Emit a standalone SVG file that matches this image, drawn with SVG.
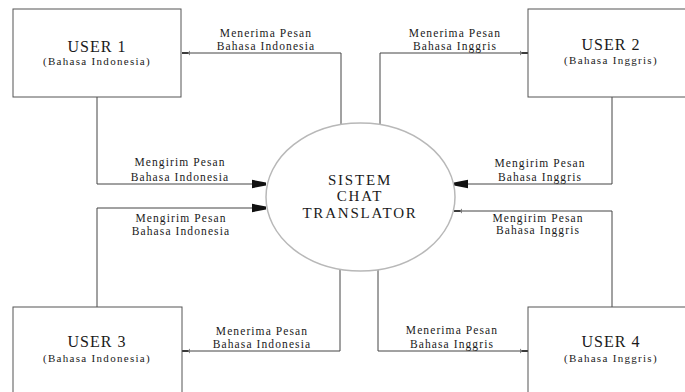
<svg xmlns="http://www.w3.org/2000/svg" width="685" height="392" viewBox="0 0 685 392">
<defs>
<style>
.box{fill:#fff;stroke:#555;stroke-width:1}
.proc{fill:#fff;stroke:#b8b8b8;stroke-width:1.5}
.ln{fill:none;stroke:#444;stroke-width:1}
.t{font-family:"Liberation Serif","Times New Roman",serif;fill:#1a1a1a;text-anchor:middle}
.u{font-size:16px;letter-spacing:1px}
.s{font-size:11px;letter-spacing:1.3px}
.lb{font-size:11.5px;letter-spacing:1.1px}
.c{font-size:15px;letter-spacing:1.8px}
</style>
<marker id="big" viewBox="0 0 10 10" refX="10" refY="5" markerWidth="14" markerHeight="14" markerUnits="userSpaceOnUse" orient="auto">
<path d="M0,2 L10,4 L10,6 L0,8 Z" fill="#111"/>
</marker>
<marker id="small" viewBox="0 0 10 10" refX="10" refY="5" markerWidth="14" markerHeight="8" markerUnits="userSpaceOnUse" orient="auto">
<path d="M0,4 L10,4 L10,6 L0,6 Z" fill="#222"/>
<path d="M0,2 L3,5 L0,8 Z" fill="#777"/>
</marker>
</defs>
<rect width="685" height="392" fill="#fff"/>
<g id="connectors">
<path class="ln" d="M341,124 V53 H182" marker-end="url(#small)"/>
<path class="ln" d="M97,97 V184 H266" marker-end="url(#big)"/>
<path class="ln" d="M380,124 V53 H528" marker-end="url(#small)"/>
<path class="ln" d="M612,97 V184 H454" marker-end="url(#big)"/>
<path class="ln" d="M97,307 V208 H266" marker-end="url(#big)"/>
<path class="ln" d="M340,270 V351 H182" marker-end="url(#small)"/>
<path class="ln" d="M378,270 V351 H528" marker-end="url(#small)"/>
<path class="ln" d="M612,307 V211 H454" marker-end="url(#small)"/>
<text class="t lb" x="266" y="37">Menerima Pesan</text>
<text class="t lb" x="266" y="50">Bahasa Indonesia</text>
<text class="t lb" x="180" y="166">Mengirim Pesan</text>
<text class="t lb" x="180" y="181">Bahasa Indonesia</text>
<text class="t lb" x="455" y="37">Menerima Pesan</text>
<text class="t lb" x="455" y="50">Bahasa Inggris</text>
<text class="t lb" x="540" y="167">Mengirim Pesan</text>
<text class="t lb" x="540" y="181">Bahasa Inggris</text>
<text class="t lb" x="181" y="222">Mengirim Pesan</text>
<text class="t lb" x="181" y="235">Bahasa Indonesia</text>
<text class="t lb" x="262" y="335">Menerima Pesan</text>
<text class="t lb" x="262" y="348">Bahasa Indonesia</text>
<text class="t lb" x="452" y="334">Menerima Pesan</text>
<text class="t lb" x="452" y="348">Bahasa Inggris</text>
<text class="t lb" x="538" y="222">Mengirim Pesan</text>
<text class="t lb" x="538" y="234">Bahasa Inggris</text>
</g>
<g id="sistem">
<ellipse class="proc" cx="360.5" cy="197" rx="94.5" ry="74"/>
<text class="t c" x="360" y="185">SISTEM</text>
<text class="t c" x="360" y="201">CHAT</text>
<text class="t c" x="360" y="218">TRANSLATOR</text>
</g>
<g id="user1">
<rect class="box" x="13" y="9" width="168" height="88"/>
<text class="t u" x="97" y="52">USER 1</text>
<text class="t s" x="97" y="65">(Bahasa Indonesia)</text>
</g>
<g id="user2">
<rect class="box" x="528" y="9" width="168" height="88"/>
<text class="t u" x="611" y="50">USER 2</text>
<text class="t s" x="611" y="64">(Bahasa Inggris)</text>
</g>
<g id="user3">
<rect class="box" x="13" y="307" width="169" height="95"/>
<text class="t u" x="97" y="347">USER 3</text>
<text class="t s" x="97" y="362">(Bahasa Indonesia)</text>
</g>
<g id="user4">
<rect class="box" x="528" y="307" width="168" height="95"/>
<text class="t u" x="611" y="347">USER 4</text>
<text class="t s" x="611" y="362">(Bahasa Inggris)</text>
</g>
</svg>
